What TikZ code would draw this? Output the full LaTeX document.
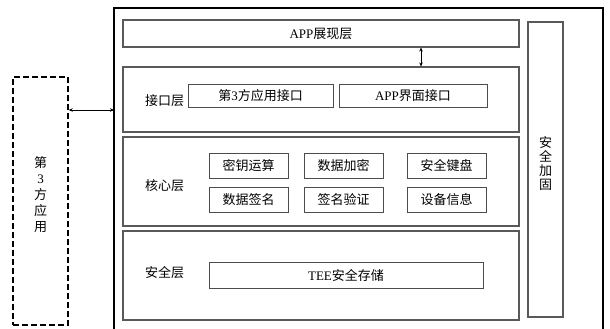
\documentclass[tikz,border=0pt]{standalone}
\usepackage{fontspec}
\setmainfont{Liberation Serif}
\newfontfamily\cjk{Noto Sans CJK SC}
\usetikzlibrary{arrows.meta}
\begin{document}
\begin{tikzpicture}[x=1pt,y=-1pt,
  layer/.style={draw=black!65,line width=1.1pt,inner sep=0pt,minimum width=396pt},
  sub/.style={draw=black!70,line width=1pt,inner sep=0pt,font=\fontsize{13}{13}\selectfont\cjk},
  lbl/.style={inner sep=0pt,font=\fontsize{13}{13}\selectfont\cjk},
  biarrow/.style={{Stealth[length=4pt,width=3.5pt]}-{Stealth[length=4pt,width=3.5pt]},line width=0.8pt}]
\useasboundingbox (0,0) rectangle (610,329);
% outer frame (bottom edge beyond the picture)
\draw[line width=2.4pt] (114,330) -- (114,8) -- (603,8) -- (603,330);
\coordinate (outerL) at (114,110);
% layers
\node[layer,minimum height=27pt] (app) at (321,33.5) {};
\node[lbl] (appt) at (321,34) {{\rmfamily APP}展现层};
\node[layer,minimum height=65pt] (iface) at (321,99.5) {};
\node[layer,minimum height=89pt] (core) at (321,181.5) {};
\node[layer,minimum height=89pt] (sec) at (321,275.5) {};
% layer labels
\node[lbl] (ifl) at (164.5,101) {接口层};
\node[lbl] (corel) at (164.5,186) {核心层};
\node[lbl] (secl) at (164.5,273) {安全层};
% interface boxes
\node[sub,minimum width=145pt,minimum height=23pt] (if1) at (260.5,95.5) {第{\rmfamily 3}方应用接口};
\node[sub,minimum width=148pt,minimum height=23pt] (if2) at (413,95.5) {{\rmfamily APP}界面接口};
% core boxes
\node[sub,minimum width=79pt,minimum height=25pt] (c1) at (248.5,165.5) {密钥运算};
\node[sub,minimum width=79pt,minimum height=25pt] (c2) at (343.5,165.5) {数据加密};
\node[sub,minimum width=79pt,minimum height=25pt] (c3) at (446.5,165.5) {安全键盘};
\node[sub,minimum width=79pt,minimum height=25pt] (c4) at (248.5,200) {数据签名};
\node[sub,minimum width=79pt,minimum height=25pt] (c5) at (343.5,200) {签名验证};
\node[sub,minimum width=79pt,minimum height=25pt] (c6) at (446.5,200) {设备信息};
% security storage
\node[sub,minimum width=274pt,minimum height=26pt] (tee) at (346,275) {{\rmfamily TEE}安全存储};
% security hardening
\node[draw=black!65,line width=1.1pt,minimum width=35pt,minimum height=295pt,inner sep=0pt] (hard) at (545.5,169.5) {};
\node[lbl,align=center,font=\fontsize{13}{14}\selectfont\cjk] (hardt) at (545.5,164) {安\\全\\加\\固};
% third party app
\node[draw,dashed,dash pattern=on 6pt off 3pt,line width=1.4pt,minimum width=55pt,minimum height=248pt,inner sep=0pt] (third) at (40.5,201) {};
\node[lbl,align=center,font=\fontsize{13}{16}\selectfont\cjk] (thirdt) at (40.5,195) {第\\{\rmfamily 3}\\方\\应\\用};
% arrows
\draw[biarrow] (third.east |- outerL) -- (outerL);
\coordinate (ax) at (421,0);
\draw[biarrow] (app.south -| ax) -- (iface.north -| ax);
\end{tikzpicture}
\end{document}
